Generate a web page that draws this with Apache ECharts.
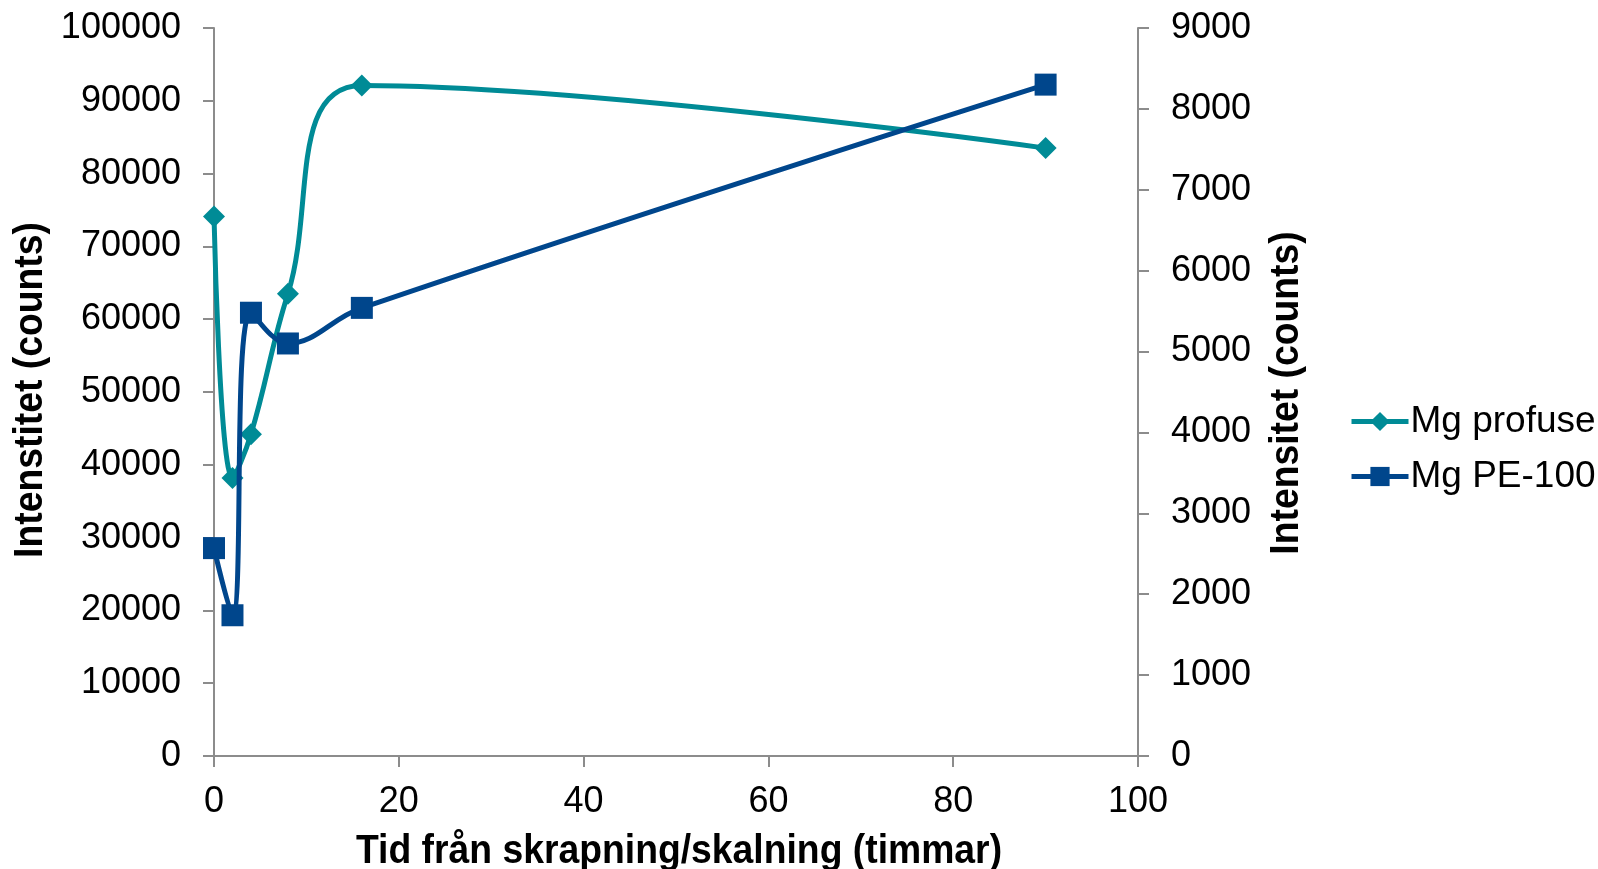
<!DOCTYPE html>
<html>
<head>
<meta charset="utf-8">
<script src="https://cdn.jsdelivr.net/npm/echarts@6/dist/echarts.min.js"></script>
<style>
  html, body { margin: 0; padding: 0; background: #fff; }
  #chart { width: 1598px; height: 869px; }
</style>
</head>
<body>
<div id="chart"></div>
<script>
// Time since scraping (hours)
const hours = [0, 2, 4, 8, 16, 90];
// Mg intensity, left axis
const mgProfuse = [74100, 38200, 44200, 63500, 92100, 83500];
// Mg intensity, right axis
const mgPE100 = [2570, 1740, 5480, 5100, 5540, 8300];

const seriesNames = ['Mg profuse', 'Mg PE-100'];
const xTitle = 'Tid från skrapning/skalning (timmar)';
const yLeftTitle = 'Intenstitet (counts)';
const yRightTitle = 'Intensitet (counts)';

const TEAL = '#008b96';
const NAVY = '#00468c';
const AXIS = '#8c8c8c';
const FONT = "'Liberation Sans', Arial, sans-serif";

const pairs = (xs, ys) => xs.map((x, i) => [x, ys[i]]);
const plain = v => String(v);

const axisLabel = { color: '#000', fontFamily: FONT, fontSize: 36, formatter: plain };
const axisLine = { show: true, lineStyle: { color: AXIS, width: 2 } };
const axisTick = { show: true, length: 11, lineStyle: { color: AXIS, width: 2 } };

// Axis titles are drawn as graphic text so they can be condensed horizontally.
function titleText(text, x, y, rotation) {
  return {
    type: 'text',
    x: x, y: y,
    rotation: rotation,
    scaleX: 0.91,
    silent: true,
    style: {
      text: text,
      fill: '#000',
      font: "bold 41px 'Liberation Sans', Arial, sans-serif",
      textAlign: 'center',
      textVerticalAlign: 'middle'
    }
  };
}

const chart = echarts.init(document.getElementById('chart'), null, { renderer: 'canvas' });
chart.setOption({
  animation: false,
  backgroundColor: '#fff',
  grid: { left: 214, right: 460, top: 28, bottom: 113, containLabel: false, outerBoundsMode: 'none' },
  legend: {
    orient: 'vertical',
    left: 1344,
    top: 398,
    itemWidth: 57,
    itemHeight: 24,
    itemGap: 18,
    lineStyle: { width: 5 },
    textStyle: { color: '#000', fontFamily: FONT, fontSize: 37, padding: [0, 0, 0, -3] },
    data: seriesNames
  },
  graphic: [
    titleText(xTitle, 679, 852, 0),
    titleText(yLeftTitle, 31, 390, Math.PI / 2),
    titleText(yRightTitle, 1287, 393, Math.PI / 2)
  ],
  xAxis: {
    type: 'value',
    min: 0, max: 100, interval: 20,
    axisLine: axisLine,
    axisTick: axisTick,
    axisLabel: Object.assign({}, axisLabel, { margin: 28 }),
    splitLine: { show: false }
  },
  yAxis: [
    {
      type: 'value',
      position: 'left',
      min: 0, max: 100000, interval: 10000,
      axisLine: axisLine,
      axisTick: axisTick,
      axisLabel: Object.assign({ margin: 33 }, axisLabel),
      splitLine: { show: false }
    },
    {
      type: 'value',
      position: 'right',
      min: 0, max: 9000, interval: 1000,
      axisLine: axisLine,
      axisTick: axisTick,
      axisLabel: Object.assign({ margin: 33 }, axisLabel),
      splitLine: { show: false }
    }
  ],
  series: [
    {
      name: seriesNames[0],
      type: 'line',
      yAxisIndex: 0,
      data: pairs(hours, mgProfuse),
      smooth: 0.4,
      symbol: 'diamond',
      symbolSize: 22,
      lineStyle: { color: TEAL, width: 5 },
      itemStyle: { color: TEAL },
      z: 2
    },
    {
      name: seriesNames[1],
      type: 'line',
      yAxisIndex: 1,
      data: pairs(hours, mgPE100),
      smooth: 0.4,
      symbol: 'rect',
      symbolSize: 22,
      lineStyle: { color: NAVY, width: 5 },
      itemStyle: { color: NAVY },
      z: 3
    }
  ]
});
</script>
</body>
</html>
